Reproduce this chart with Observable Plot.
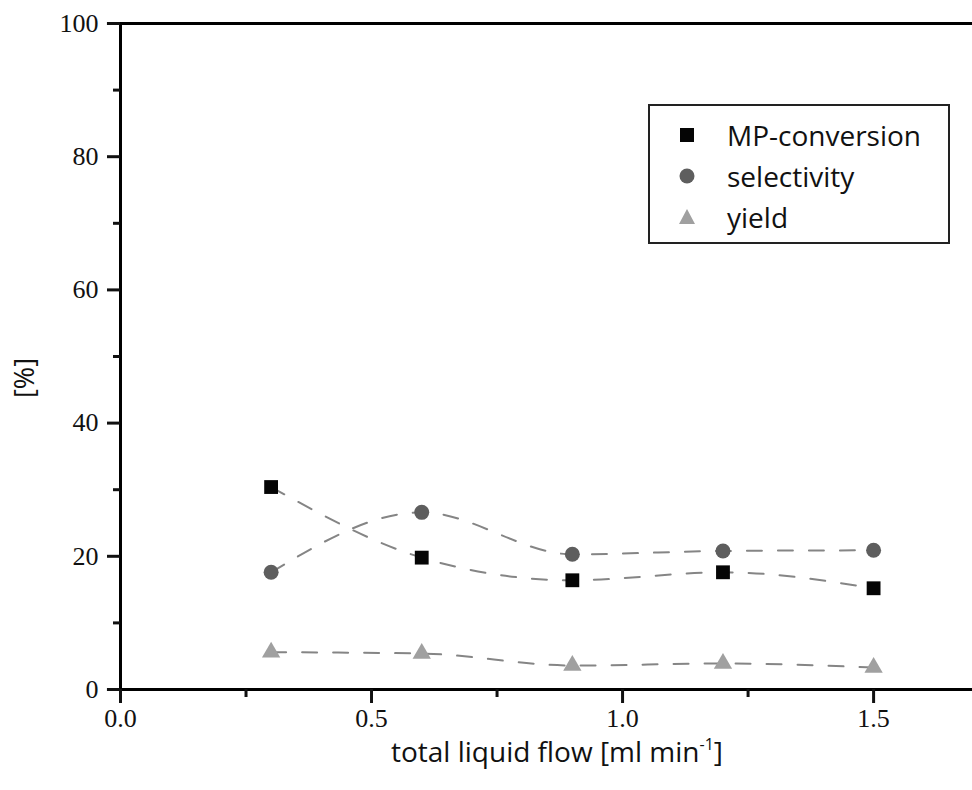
<!DOCTYPE html>
<html>
<head>
<meta charset="utf-8">
<script src="https://cdn.jsdelivr.net/npm/d3@7"></script>
<script src="https://cdn.jsdelivr.net/npm/@observablehq/plot@0.6"></script>
<style>
  html, body { margin: 0; padding: 0; background: #fff; }
  #wrap { position: relative; width: 972px; height: 790px; overflow: hidden; }
  #legend {
    position: absolute; left: 648px; top: 104px; width: 298px; height: 136px;
    border: 2px solid #222; box-sizing: content-box; background: #fff;
    font-family: "Open Sans", Lato, sans-serif; font-size: 28px; color: #111;
  }
  .item { position: absolute; left: 0; width: 298px; height: 40px; }
  .item svg { position: absolute; left: 27px; top: 10px; }
  .item span { position: absolute; left: 77px; top: 0; line-height: 40px; white-space: nowrap; }
  .title { position: absolute; font-family: "Open Sans", Lato, sans-serif; color: #111; white-space: nowrap; }
  #xtitle { left: 0; width: 1114px; top: 738px; font-size: 28px; line-height: 26px; text-align: center; }
  #xtitle sup { font-size: 16px; position: relative; top: -2px; line-height: 0; }
  #ytitle { left: 24px; top: 378px; font-size: 27px; line-height: 30px; transform: translate(-50%, -50%) rotate(-90deg); }
</style>
</head>
<body>
<div id="wrap"></div>
<script>
// ---- data ----
const flows = [0.3, 0.6, 0.9, 1.2, 1.5];
const conversion = [30.4, 19.8, 16.4, 17.6, 15.2];
const selectivity = [17.6, 26.6, 20.3, 20.8, 20.9];
const yieldv = [5.6, 5.4, 3.6, 3.9, 3.3];
const seriesNames = ["MP-conversion", "selectivity", "yield"];
const xMajorTicks = [0, 0.5, 1.0, 1.5];
const xMinorTicks = [0.25, 0.75, 1.25];
const yMajorTicks = [0, 20, 40, 60, 80, 100];
const yMinorTicks = [10, 30, 50, 70, 90];
const xTitle = "total liquid flow [ml min";
const xTitleSup = "-1";
const yTitle = "[%]";

const seriesValues = [conversion, selectivity, yieldv];
const rows = [];
seriesNames.forEach((s, i) => flows.forEach((f, j) => rows.push({series: s, flow: f, value: seriesValues[i][j]})));
const bySeries = name => rows.filter(d => d.series === name);

const tickFont = "Liberation Serif, DejaVu Serif, serif";
const lineOpts = {x: "flow", y: "value", curve: "monotone-x", stroke: "#858585", strokeWidth: 2, strokeDasharray: "15,16"};

const chart = Plot.plot({
  width: 972,
  height: 790,
  marginLeft: 120,
  marginRight: 0,
  marginTop: 23,
  marginBottom: 101,
  style: {background: "#fff", color: "#111"},
  x: {domain: [0, 1.697]},
  y: {domain: [0, 100]},
  marks: [
    Plot.line(bySeries("MP-conversion"), lineOpts),
    Plot.line(bySeries("selectivity"), lineOpts),
    Plot.line(bySeries("yield"), lineOpts),
    Plot.dot(bySeries("MP-conversion"), {x: "flow", y: "value", symbol: "square", r: 7.8, fill: "#050505"}),
    Plot.dot(bySeries("selectivity"), {x: "flow", y: "value", symbol: "circle", r: 7.5, fill: "#5e5e5e"}),
    Plot.dot(bySeries("yield"), {x: "flow", y: "value", symbol: "triangle", r: 6.8, fill: "#a0a0a0"}),
    Plot.ruleY([0], {stroke: "#000", strokeWidth: 3, x1: -0.026, x2: 1.697}),
    Plot.ruleY([100], {stroke: "#000", strokeWidth: 3, x1: -0.026, x2: 1.697}),
    Plot.ruleX([0], {stroke: "#000", strokeWidth: 3}),
    Plot.axisY({ticks: yMajorTicks, tickSize: 13, tickPadding: 9, strokeWidth: 3, fontSize: 26, fontFamily: tickFont, label: null}),
    Plot.axisY({ticks: yMinorTicks, tickSize: 7, strokeWidth: 3, text: null, label: null}),
    Plot.axisX({ticks: xMajorTicks, tickSize: 14, tickPadding: 5, strokeWidth: 3, fontSize: 26, fontFamily: tickFont, tickFormat: d3.format(".1f"), label: null}),
    Plot.axisX({ticks: xMinorTicks, tickSize: 8, strokeWidth: 3, text: null, label: null})
  ]
});
const wrap = document.getElementById("wrap");
wrap.appendChild(chart);

// axis titles
const xt = document.createElement("div");
xt.id = "xtitle"; xt.className = "title";
xt.innerHTML = xTitle + "<sup>" + xTitleSup + "</sup>]";
wrap.appendChild(xt);
const yt = document.createElement("div");
yt.id = "ytitle"; yt.className = "title";
yt.textContent = yTitle;
wrap.appendChild(yt);

// legend
const legend = document.createElement("div");
legend.id = "legend";
const symbols = [
  '<svg width="20" height="20"><rect x="3" y="3" width="14" height="14" fill="#050505"/></svg>',
  '<svg width="20" height="20"><circle cx="10" cy="10" r="7.5" fill="#5e5e5e"/></svg>',
  '<svg width="20" height="20"><path d="M10,2 L18,17 L2,17 Z" fill="#a0a0a0"/></svg>'
];
const rowTops = [9, 50, 91];
seriesNames.forEach((name, i) => {
  const it = document.createElement("div");
  it.className = "item";
  it.style.top = rowTops[i] + "px";
  it.innerHTML = symbols[i] + "<span>" + name + "</span>";
  legend.appendChild(it);
});
wrap.appendChild(legend);
</script>
</body>
</html>
